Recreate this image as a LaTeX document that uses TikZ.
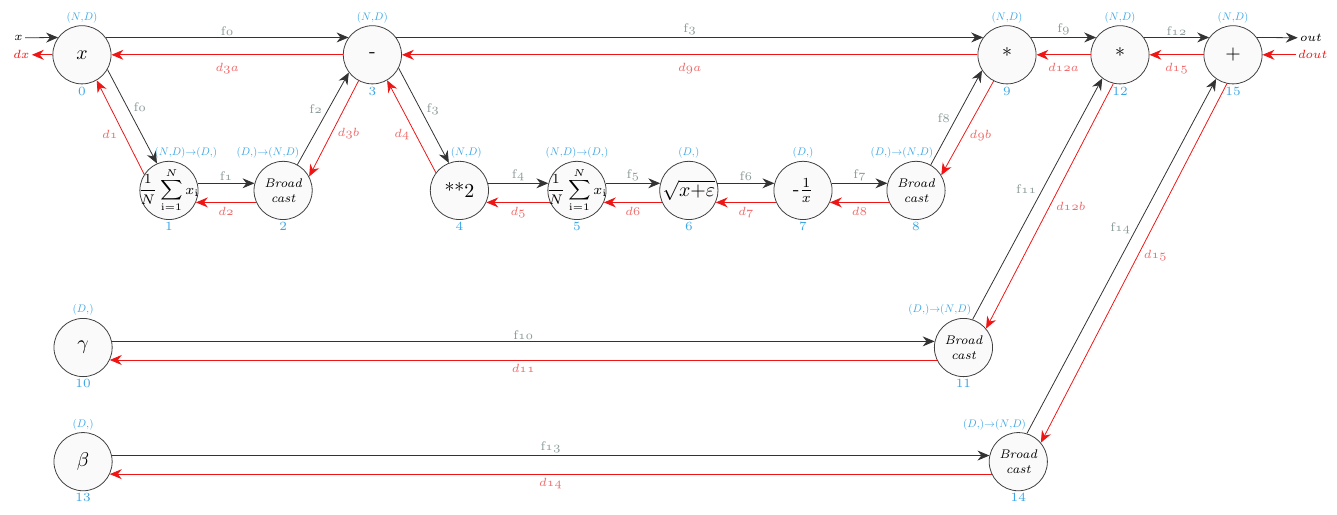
\documentclass[tikz,border=0pt]{standalone}
\usepackage{amsmath}
\usetikzlibrary{positioning,calc,arrows,arrows.meta}
\definecolor{fwdgray}{HTML}{333333}
\definecolor{bwdred}{HTML}{F01515}
\definecolor{fgray}{HTML}{8C9B9B}
\definecolor{dpink}{HTML}{EF6B6B}
\definecolor{dimblue}{HTML}{3AA6E6}
\newcommand{\smallf}{\fontsize{6.3}{7.5}\selectfont}
\newcommand{\shp}[1]{\scalebox{0.55}{$#1$}}
\newcommand{\meanx}{\makebox[0pt]{$\displaystyle\frac{1}{N}\sum_{\mathrm{i}=1}^{N}x_{\mathrm{i}}$}}
\tikzset{
	op/.style={circle, draw=black!75, fill=black!2, minimum size=1.03cm, inner sep=0pt, align=center},
	bcast/.style={op, font=\smallf\itshape},
	fwd/.style={draw=fwdgray, -{Stealth[length=6pt, width=5pt]}},
	bwd/.style={draw=bwdred, -{Stealth[length=6pt, width=5pt]}},
	fl/.style={font=\smallf, text=fgray, inner sep=1pt},
	dl/.style={font=\smallf, text=dpink, inner sep=1pt},
	dim/.style={text=dimblue, inner sep=1pt},
	idx/.style={font=\smallf, text=dimblue, inner sep=1pt},
}

\begin{document}
\begin{tikzpicture}
	\useasboundingbox (0,0) rectangle (23.66,9.10);

	\node[op, label={[dim]above:\shp{(N{,}D)}}, label={[idx]below:0}] (n0) at (1.45, 8.13) {$x$};
	\node[op, label={[dim]above:\shp{(N{,}D)}}, label={[idx]below:3}] (n3) at (6.59, 8.13) {-};
	\node[op, label={[dim]above:\shp{(N{,}D)}}, label={[idx]below:9}] (n9) at (17.82, 8.13) {*};
	\node[op, label={[dim]above:\shp{(N{,}D)}}, label={[idx]below:12}] (n12) at (19.82, 8.13) {*};
	\node[op, label={[dim]above:\shp{(N{,}D)}}, label={[idx]below:15}] (n15) at (21.82, 8.13) {$+$};

	\node[op, font=\scriptsize, label={[dim, xshift=0.3cm]above:\shp{(N{,}D){\to}(D{,})}}, label={[idx]below:1}] (n1) at (2.99, 5.73) {\meanx};
	\node[bcast, label={[dim, xshift=-0.27cm]above:\shp{(D{,}){\to}(N{,}D)}}, label={[idx]below:2}] (n2) at (5.01, 5.73) {Broad\\cast};
	\node[op, label={[dim, xshift=0.12cm]above:\shp{(N{,}D)}}, label={[idx]below:4}] (n4) at (8.13, 5.73) {**2};
	\node[op, font=\scriptsize, label={[dim]above:\shp{(N{,}D){\to}(D{,})}}, label={[idx]below:5}] (n5) at (10.21, 5.73) {\meanx};
	\node[op, label={[dim]above:\shp{(D{,})}}, label={[idx]below:6}] (n6) at (12.19, 5.73) {$\sqrt{x{+}\varepsilon}$};
	\node[op, label={[dim]above:\shp{(D{,})}}, label={[idx]below:7}] (n7) at (14.21, 5.73) {$\text{-}\frac{1}{x}$};
	\node[bcast, label={[dim, xshift=-0.25cm]above:\shp{(D{,}){\to}(N{,}D)}}, label={[idx]below:8}] (n8) at (16.21, 5.73) {Broad\\cast};

	\node[op, label={[dim]above:\shp{(D{,})}}, label={[idx]below:10}] (n10) at (1.47, 2.95) {$\gamma$};
	\node[bcast, label={[dim, xshift=-0.42cm]above:\shp{(D{,}){\to}(N{,}D)}}, label={[idx]below:11}] (n11) at (17.05, 2.95) {Broad\\cast};
	\node[op, label={[dim]above:\shp{(D{,})}}, label={[idx]below:13}] (n13) at (1.47, 0.93) {$\beta$};
	\node[bcast, label={[dim, xshift=-0.42cm]above:\shp{(D{,}){\to}(N{,}D)}}, label={[idx]below:14}] (n14) at (18.02, 0.93) {Broad\\cast};

	\node[font=\smallf, inner sep=1pt] (xin) at (0.33, 8.43) {$x$};
	\node[font=\smallf, text=bwdred, inner sep=1pt] (dxn) at (0.38, 8.13) {$dx$};
	\node[font=\smallf, inner sep=1pt] (outn) at (23.2, 8.43) {$out$};
	\node[font=\smallf, text=bwdred, inner sep=1pt] (doutn) at (23.23, 8.13) {$dout$};

	\draw [fwd] (xin) to (n0.144);
	\draw [bwd] (n0.west) to (dxn);
	\draw [fwd] (n15.36) to (outn);
	\draw [bwd] (doutn) to (n15.east);

	\draw [fwd] (n0.36) to node[fl, above] {f$\mathnormal{0}$} (n3.144);
	\draw [bwd] (n3.west) to node[dl, below=3pt] {$d\mathnormal{3}a$} (n0.east);
	\draw [fwd] (n3.36) to node[fl, above] {f$\mathnormal{3}$} (n9.144);
	\draw [bwd] (n9.west) to node[dl, below=3pt] {$d\mathnormal{9}a$} (n3.east);
	\draw [fwd] (n9.36) to node[fl, above] {f$\mathnormal{9}$} (n12.144);
	\draw [bwd] (n12.west) to node[dl, below=3pt] {$d\mathnormal{12}a$} (n9.east);
	\draw [fwd] (n12.36) to node[fl, above] {f$\mathnormal{12}$} (n15.144);
	\draw [bwd] (n15.west) to node[dl, below=3pt] {$d\mathnormal{15}$} (n12.east);

	\draw [fwd] (n1.14) to node[fl, above] {f$\mathnormal{1}$} (n2.166);
	\draw [bwd] (n2.204) to node[dl, below=1pt] {$d\mathnormal{2}$} (n1.-24);
	\draw [fwd] (n4.14) to node[fl, above] {f$\mathnormal{4}$} (n5.166);
	\draw [bwd] (n5.204) to node[dl, below=1pt] {$d\mathnormal{5}$} (n4.-24);
	\draw [fwd] (n5.14) to node[fl, above] {f$\mathnormal{5}$} (n6.166);
	\draw [bwd] (n6.204) to node[dl, below=1pt] {$d\mathnormal{6}$} (n5.-24);
	\draw [fwd] (n6.14) to node[fl, above] {f$\mathnormal{6}$} (n7.166);
	\draw [bwd] (n7.204) to node[dl, below=1pt] {$d\mathnormal{7}$} (n6.-24);
	\draw [fwd] (n7.14) to node[fl, above] {f$\mathnormal{7}$} (n8.166);
	\draw [bwd] (n8.204) to node[dl, below=1pt] {$d\mathnormal{8}$} (n7.-24);

	\draw [fwd] (n10.12) to node[fl, above] {f$\mathnormal{10}$} (n11.168);
	\draw [bwd] (n11.205) to node[dl, below=1pt] {$d\mathnormal{11}$} (n10.-25);
	\draw [fwd] (n13.12) to node[fl, above] {f$\mathnormal{13}$} (n14.168);
	\draw [bwd] (n14.205) to node[dl, below=1pt] {$d\mathnormal{14}$} (n13.-25);

	\draw [fwd] (n0.-30) to node[fl, pos=0.4, right=2pt] {f$\mathnormal{0}$} (n1.114);
	\draw [bwd] (n1.147) to node[dl, pos=0.43, left=2pt] {$d\mathnormal{1}$} (n0.-60);
	\draw [fwd] (n2.61) to node[fl, pos=0.6, left=2pt] {f$\mathnormal{2}$} (n3.217);
	\draw [bwd] (n3.242) to node[dl, pos=0.55, right=2pt] {$d\mathnormal{3}b$} (n2.28);
	\draw [fwd] (n3.-27) to node[fl, pos=0.43, right=2pt] {f$\mathnormal{3}$} (n4.111);
	\draw [bwd] (n4.143) to node[dl, pos=0.41, left=2pt] {$d\mathnormal{4}$} (n3.-60);
	\draw [fwd] (n8.60) to node[fl, pos=0.5, left=2pt] {f$\mathnormal{8}$} (n9.212);
	\draw [bwd] (n9.243) to node[dl, pos=0.58, right=2pt] {$d\mathnormal{9}b$} (n8.31);
	\draw [fwd] (n11.72) to node[fl, pos=0.54, left=2pt] {f$\mathnormal{11}$} (n12.233);
	\draw [bwd] (n12.257) to node[dl, pos=0.5, right=2pt] {$d\mathnormal{12}b$} (n11.40);
	\draw [fwd] (n14.73) to node[fl, pos=0.58, left=2pt] {f$\mathnormal{14}$} (n15.235);
	\draw [bwd] (n15.258) to node[dl, pos=0.48, right=2pt] {$d\mathnormal{15}$} (n14.40);
\end{tikzpicture}
\end{document}
